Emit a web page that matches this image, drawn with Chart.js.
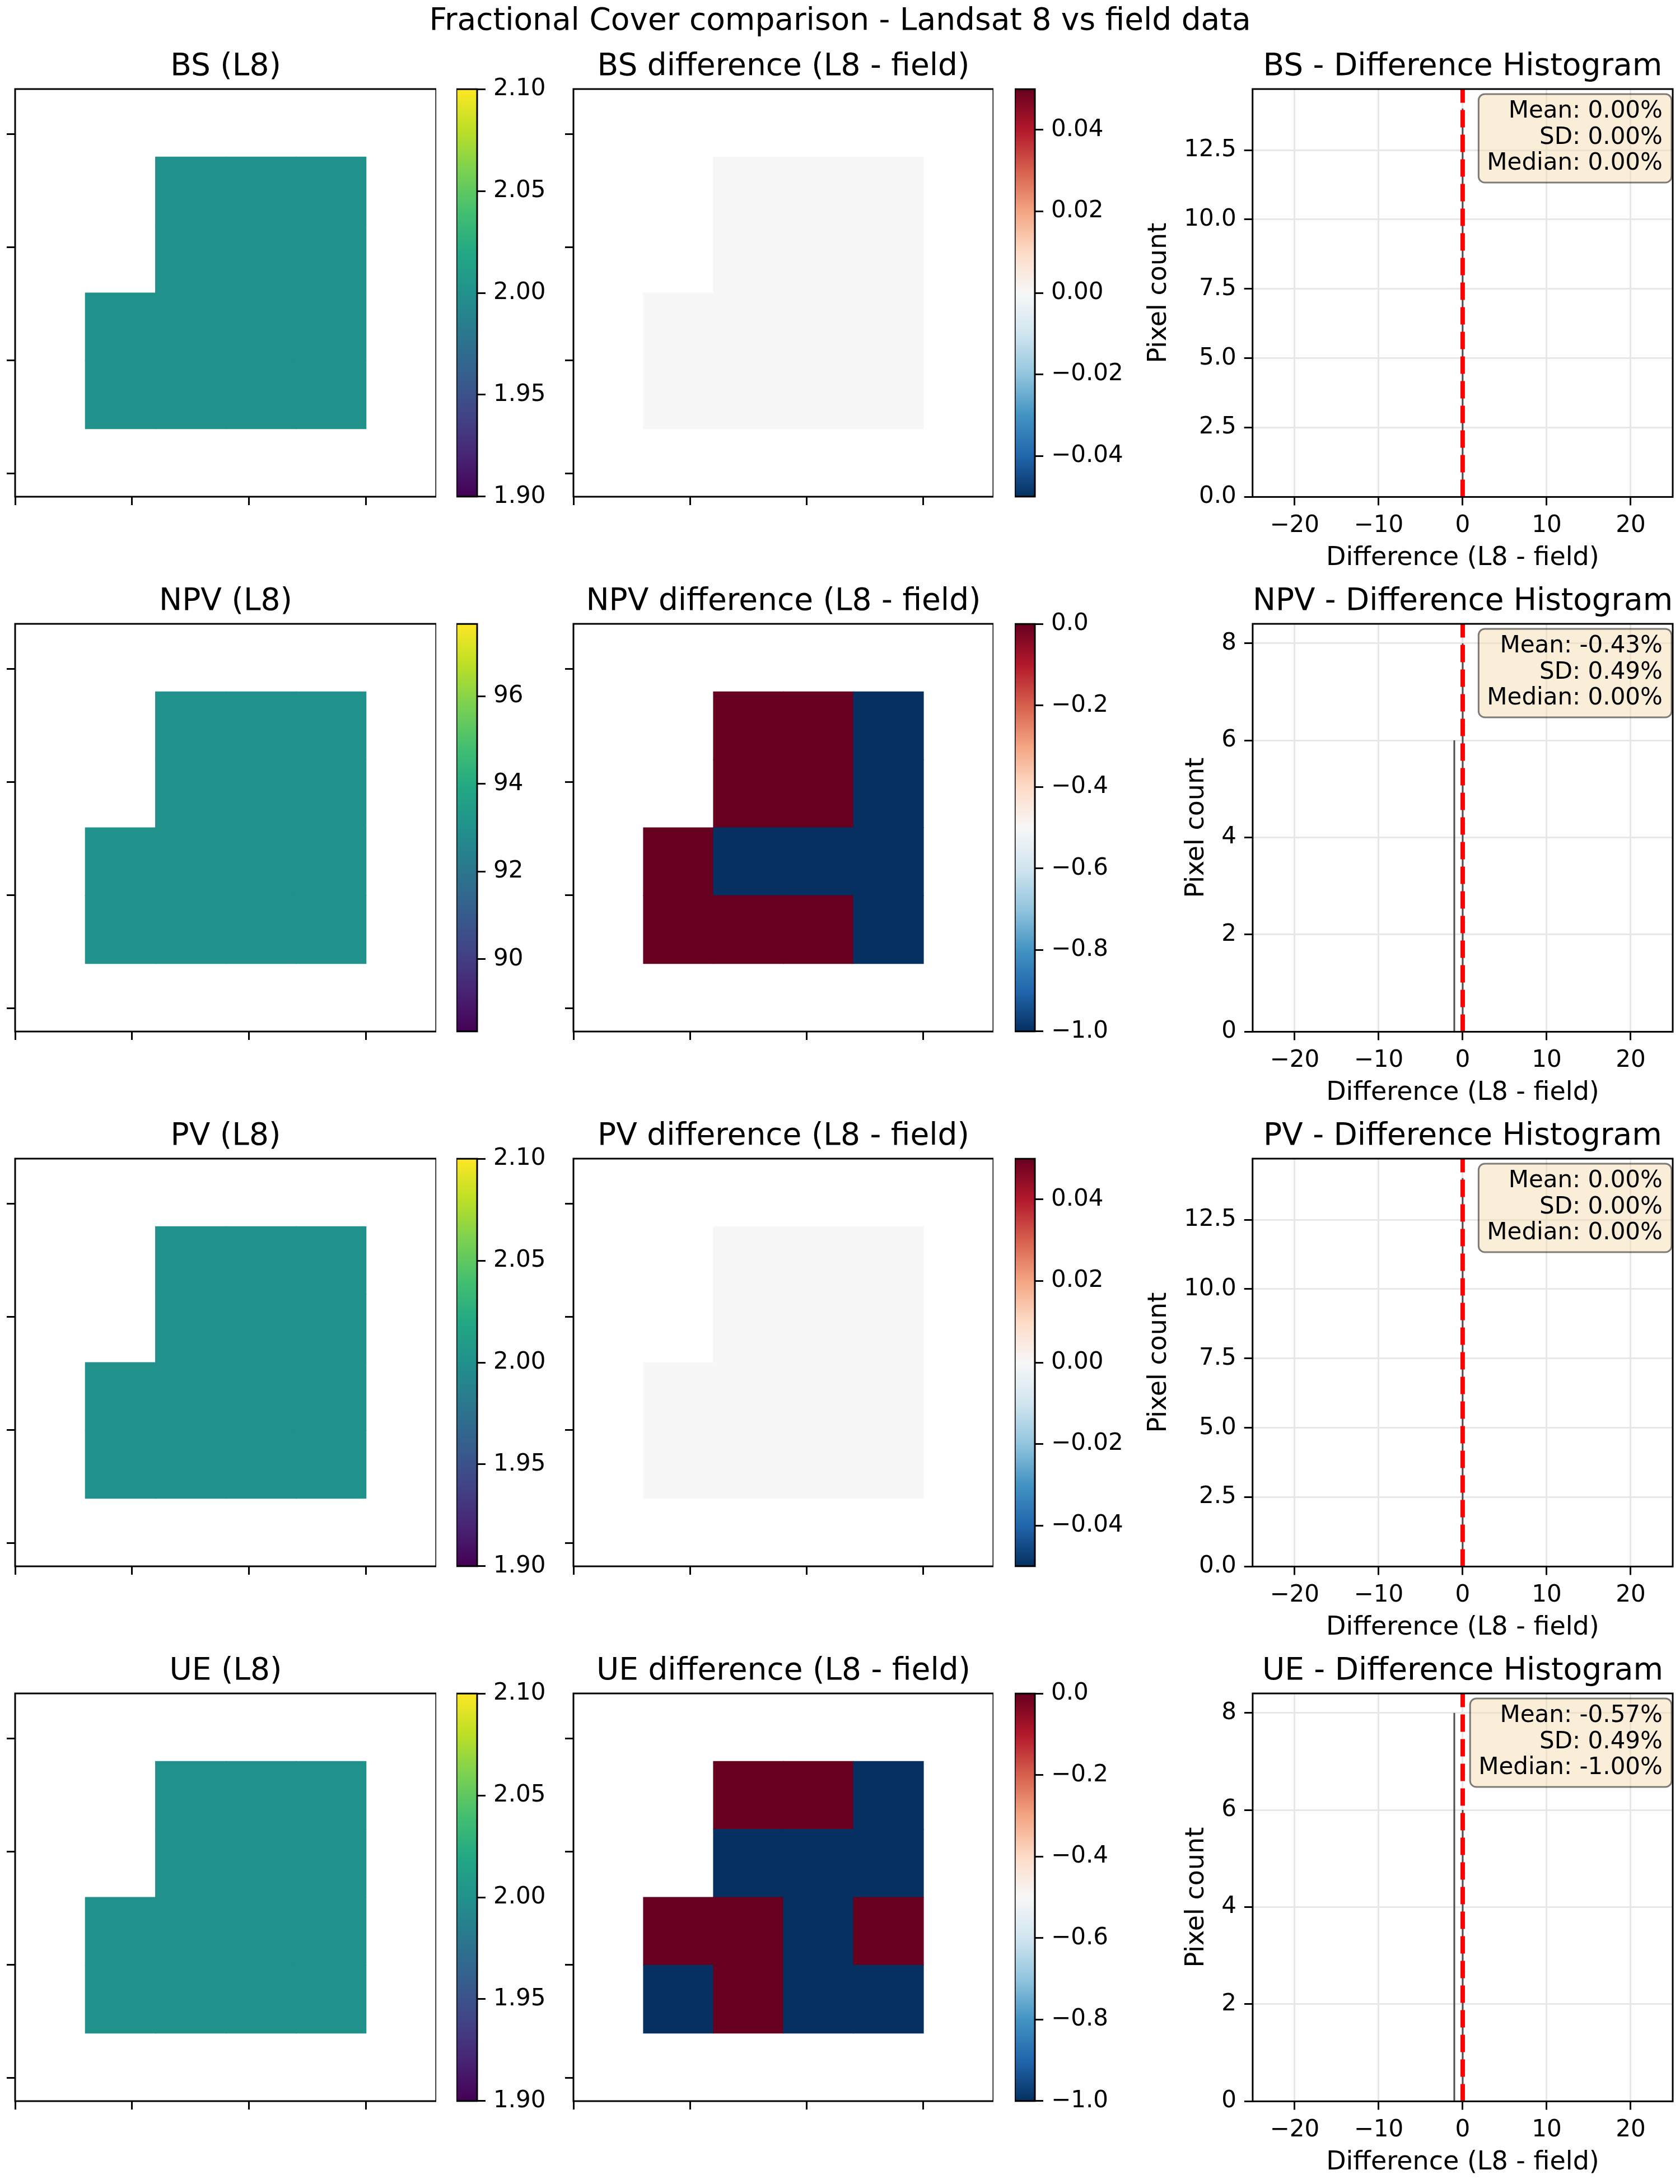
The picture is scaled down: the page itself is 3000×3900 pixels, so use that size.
<!DOCTYPE html>
<html>
<head>
<meta charset="utf-8">
<script src="https://cdn.jsdelivr.net/npm/chart.js@4.4.1/dist/chart.umd.min.js"></script>
<style>
  html, body { margin: 0; padding: 0; background: #fff; }
  body { width: 3000px; height: 3900px; position: relative; overflow: hidden; }
  canvas { position: absolute; }
  #suptitle { position: absolute; left: 0; top: 1px; width: 3000px; text-align: center;
              font-family: 'DejaVu Sans'; font-size: 55px; line-height: 66px; color: #000; }
</style>
</head>
<body>
<div id="suptitle">Fractional Cover comparison - Landsat 8 vs field data</div>
<script>
// ---------- values ----------
const bands = ['BS', 'NPV', 'PV', 'UE'];

// 6x6 pixel grids, null = no data
const bsL8 = [
  [null, null, null, null, null, null],
  [null, null, 2, 2, 2, null],
  [null, null, 2, 2, 2, null],
  [null, 2, 2, 2, 2, null],
  [null, 2, 2, 2, 2, null],
  [null, null, null, null, null, null]
];
const npvL8 = [
  [null, null, null, null, null, null],
  [null, null, 93, 93, 93, null],
  [null, null, 93, 93, 93, null],
  [null, 93, 93, 93, 93, null],
  [null, 93, 93, 93, 93, null],
  [null, null, null, null, null, null]
];
const pvL8 = [
  [null, null, null, null, null, null],
  [null, null, 2, 2, 2, null],
  [null, null, 2, 2, 2, null],
  [null, 2, 2, 2, 2, null],
  [null, 2, 2, 2, 2, null],
  [null, null, null, null, null, null]
];
const ueL8 = [
  [null, null, null, null, null, null],
  [null, null, 2, 2, 2, null],
  [null, null, 2, 2, 2, null],
  [null, 2, 2, 2, 2, null],
  [null, 2, 2, 2, 2, null],
  [null, null, null, null, null, null]
];

const bsDiff = [
  [null, null, null, null, null, null],
  [null, null, 0, 0, 0, null],
  [null, null, 0, 0, 0, null],
  [null, 0, 0, 0, 0, null],
  [null, 0, 0, 0, 0, null],
  [null, null, null, null, null, null]
];
const npvDiff = [
  [null, null, null, null, null, null],
  [null, null, 0, 0, -1, null],
  [null, null, 0, 0, -1, null],
  [null, 0, -1, -1, -1, null],
  [null, 0, 0, 0, -1, null],
  [null, null, null, null, null, null]
];
const pvDiff = [
  [null, null, null, null, null, null],
  [null, null, 0, 0, 0, null],
  [null, null, 0, 0, 0, null],
  [null, 0, 0, 0, 0, null],
  [null, 0, 0, 0, 0, null],
  [null, null, null, null, null, null]
];
const ueDiff = [
  [null, null, null, null, null, null],
  [null, null, 0, 0, -1, null],
  [null, null, -1, -1, -1, null],
  [null, 0, 0, -1, 0, null],
  [null, -1, 0, -1, -1, null],
  [null, null, null, null, null, null]
];

// colorbar limits and ticks
const l8Min = [1.90, 88.35, 1.90, 1.90];
const l8Max = [2.10, 97.65, 2.10, 2.10];
const l8Ticks = [
  [1.90, 1.95, 2.00, 2.05, 2.10],
  [90, 92, 94, 96],
  [1.90, 1.95, 2.00, 2.05, 2.10],
  [1.90, 1.95, 2.00, 2.05, 2.10]
];
const diffMin = [-0.05, -1.0, -0.05, -1.0];
const diffMax = [0.05, 0.0, 0.05, 0.0];
const diffTicks = [
  [-0.04, -0.02, 0.00, 0.02, 0.04],
  [-1.0, -0.8, -0.6, -0.4, -0.2, 0.0],
  [-0.04, -0.02, 0.00, 0.02, 0.04],
  [-1.0, -0.8, -0.6, -0.4, -0.2, 0.0]
];

// pixel panel tick positions (in cell units, labels hidden)
const pixelXTicks = [0, 1.665, 3.33, 4.995];
const pixelYTicks = [0.66, 2.33, 3.995, 5.66];

// histograms
const histBins = [-1, 0];
const bsCounts = [0, 14];
const npvCounts = [6, 8];
const pvCounts = [0, 14];
const ueCounts = [8, 6];
const histXTicks = [-20, -10, 0, 10, 20];
const histYMax = [14.7, 8.4, 14.7, 8.4];
const histYTicks = [
  [0, 2.5, 5.0, 7.5, 10.0, 12.5],
  [0, 2, 4, 6, 8],
  [0, 2.5, 5.0, 7.5, 10.0, 12.5],
  [0, 2, 4, 6, 8]
];
const statMean = ['0.00%', '-0.43%', '0.00%', '-0.57%'];
const statSD = ['0.00%', '0.49%', '0.00%', '0.49%'];
const statMedian = ['0.00%', '0.00%', '0.00%', '-1.00%'];

const l8Grids = [bsL8, npvL8, pvL8, ueL8];
const diffGrids = [bsDiff, npvDiff, pvDiff, ueDiff];
const histCounts = [bsCounts, npvCounts, pvCounts, ueCounts];

// ---------- styling ----------
const VIRIDIS = ['#440154', '#482475', '#414487', '#355f8d', '#2a788e', '#21918c',
                 '#22a884', '#44bf70', '#7ad151', '#bddf26', '#fde725'];
const RDBU_R = ['#053061', '#2166ac', '#4393c3', '#92c5de', '#d1e5f0', '#f7f7f7',
                '#fddbc7', '#f4a582', '#d6604d', '#b2182b', '#67001f'];

const TICK_FONT = 42;
Chart.defaults.font.family = "'DejaVu Sans'";
Chart.defaults.font.size = TICK_FONT;
Chart.defaults.color = '#000';

function hexRgb(h) {
  return [parseInt(h.slice(1, 3), 16), parseInt(h.slice(3, 5), 16), parseInt(h.slice(5, 7), 16)];
}

function cmap(stops, t) {
  t = Math.min(1, Math.max(0, t));
  const p = t * (stops.length - 1);
  const i = Math.min(Math.floor(p), stops.length - 2);
  const f = p - i;
  const a = hexRgb(stops[i]), b = hexRgb(stops[i + 1]);
  const c = a.map((v, k) => Math.round(v + (b[k] - v) * f));
  return 'rgb(' + c.join(',') + ')';
}

function decimalsOf(ticks) {
  const step = Math.abs(ticks[1] - ticks[0]);
  let d = 0;
  while (d < 4 && Math.abs(Math.round(step * Math.pow(10, d)) - step * Math.pow(10, d)) > 1e-6) d++;
  return d;
}

function formatter(d) {
  return function (v) {
    const s = Math.abs(v).toFixed(d);
    return (v < -1e-9 ? '\u2212' : '') + s;
  };
}

function useTicks(values) {
  return function (scale) {
    scale.ticks = values.map(v => ({ value: v }));
  };
}

// keep a right-hand colorbar axis as wide as its labels need
function fitLabels(scale) {
  const ctx = scale.ctx;
  ctx.save();
  ctx.font = TICK_FONT + "px 'DejaVu Sans'";
  const w = Math.max(...scale.ticks.map(t => ctx.measureText(String(t.label)).width));
  ctx.restore();
  scale.width = Math.ceil(15 + 14 + w + 4);
}

const tickGrid = { drawOnChartArea: false, tickLength: 15, tickWidth: 3, tickColor: '#000', offset: false };

function titleOpts(text) {
  return {
    display: true, text: text, fullSize: false, color: '#000',
    font: { size: 55, weight: 'normal', lineHeight: 1.2 },
    padding: { top: 0, bottom: 6 }
  };
}

const baseOptions = {
  responsive: false,
  maintainAspectRatio: false,
  animation: false,
  devicePixelRatio: 1,
  events: []
};

// draws the axes box (all four spines) on top of the data
const framePlugin = {
  id: 'frame',
  afterDatasetsDraw(chart) {
    const { ctx, chartArea: a } = chart;
    ctx.save();
    ctx.strokeStyle = '#000';
    ctx.lineWidth = 3;
    ctx.strokeRect(a.left, a.top, a.right - a.left, a.bottom - a.top);
    ctx.restore();
  }
};

// mean / sd / median box in the upper right corner
function statsPlugin(lines) {
  return {
    id: 'stats',
    afterDatasetsDraw(chart) {
      const { ctx, chartArea: a } = chart;
      ctx.save();
      ctx.font = TICK_FONT + "px 'DejaVu Sans'";
      const w = Math.max(...lines.map(t => ctx.measureText(t).width));
      const right = a.right - 18;
      const x0 = right - w - 15, x1 = right + 16;
      const y0 = a.top + 9, y1 = a.top + 167;
      ctx.beginPath();
      ctx.roundRect(x0, y0, x1 - x0, y1 - y0, 11);
      ctx.fillStyle = 'rgba(245,222,179,0.5)';
      ctx.fill();
      ctx.lineWidth = 3;
      ctx.strokeStyle = 'rgba(0,0,0,0.5)';
      ctx.stroke();
      ctx.fillStyle = '#000';
      ctx.textAlign = 'right';
      ctx.textBaseline = 'alphabetic';
      lines.forEach((t, i) => ctx.fillText(t, right, a.top + 51 + i * 46.5));
      ctx.restore();
    }
  };
}

// ---------- chart builders ----------
function pixelConfig(title, grid, stops, vmin, vmax) {
  const pts = [];
  grid.forEach((row, r) => row.forEach((v, c) => {
    if (v !== null) pts.push({ x: c + 0.5, y: [r, r + 1], v: v });
  }));
  return {
    type: 'bar',
    data: {
      datasets: [{
        data: pts,
        backgroundColor: pts.map(p => cmap(stops, (p.v - vmin) / (vmax - vmin))),
        borderWidth: 0,
        barPercentage: 1,
        categoryPercentage: 1,
        inflateAmount: 0.6
      }]
    },
    options: Object.assign({}, baseOptions, {
      plugins: { legend: { display: false }, tooltip: { enabled: false }, title: titleOpts(title) },
      scales: {
        x: {
          type: 'linear', min: 0, max: grid[0].length, offset: false,
          afterBuildTicks: useTicks(pixelXTicks),
          ticks: { display: false }, grid: tickGrid, border: { display: false }
        },
        y: {
          type: 'linear', min: 0, max: grid.length, reverse: true,
          afterBuildTicks: useTicks(pixelYTicks),
          ticks: { display: false }, grid: tickGrid, border: { display: false }
        }
      }
    }),
    plugins: [framePlugin]
  };
}

function colorbarConfig(stops, vmin, vmax, ticks) {
  return {
    type: 'bar',
    data: {
      labels: [''],
      datasets: [{
        data: [[vmin, vmax]],
        backgroundColor: function (ctx) {
          const area = ctx.chart.chartArea;
          if (!area) return null;
          const g = ctx.chart.ctx.createLinearGradient(0, area.bottom, 0, area.top);
          stops.forEach((s, i) => g.addColorStop(i / (stops.length - 1), s));
          return g;
        },
        borderWidth: 0,
        barPercentage: 1,
        categoryPercentage: 1,
        inflateAmount: 0
      }]
    },
    options: Object.assign({}, baseOptions, {
      plugins: { legend: { display: false }, tooltip: { enabled: false } },
      scales: {
        x: { display: false },
        y: {
          position: 'right', min: vmin, max: vmax, bounds: 'data',
          afterBuildTicks: useTicks(ticks),
          afterFit: fitLabels,
          ticks: { padding: 14, autoSkip: false, callback: formatter(decimalsOf(ticks)) },
          grid: tickGrid, border: { display: false }
        }
      }
    }),
    plugins: [framePlugin]
  };
}

function histConfig(i) {
  const yMax = histYMax[i];
  return {
    type: 'bar',
    data: {
      datasets: [{
        type: 'line',
        data: [{ x: 0, y: 0 }, { x: 0, y: yMax }],
        borderColor: '#ff0000',
        borderWidth: 8,
        borderDash: [31, 13],
        pointRadius: 0,
        order: 0
      }, {
        data: histBins.map((b, j) => ({ x: b, y: histCounts[i][j] })),
        backgroundColor: '#4d4d4d',
        borderWidth: 0,
        barThickness: 3,
        inflateAmount: 0,
        order: 1
      }]
    },
    options: Object.assign({}, baseOptions, {
      layout: { padding: { right: 10 } },
      plugins: {
        legend: { display: false }, tooltip: { enabled: false },
        title: titleOpts(bands[i] + ' - Difference Histogram')
      },
      scales: {
        x: {
          type: 'linear', min: -25, max: 25, offset: false,
          afterBuildTicks: useTicks(histXTicks),
          ticks: { padding: 11, maxRotation: 0, minRotation: 0, autoSkip: false, callback: formatter(0) },
          grid: { color: '#e7e7e7', lineWidth: 3, tickLength: 15, tickWidth: 3, tickColor: '#000', offset: false },
          border: { display: false },
          title: { display: true, text: 'Difference (L8 - field)', font: { size: 46 }, padding: { top: -5, bottom: 0 } }
        },
        y: {
          type: 'linear', min: 0, max: yMax, bounds: 'data',
          afterBuildTicks: useTicks(histYTicks[i]),
          ticks: { padding: 14, autoSkip: false, callback: formatter(decimalsOf(histYTicks[i])) },
          grid: { color: '#e7e7e7', lineWidth: 3, tickLength: 15, tickWidth: 3, tickColor: '#000' },
          border: { display: false },
          title: { display: true, text: 'Pixel count', font: { size: 46 }, padding: { top: 0, bottom: 3 } }
        }
      }
    }),
    plugins: [statsPlugin(['Mean: ' + statMean[i], 'SD: ' + statSD[i], 'Median: ' + statMedian[i]]), framePlugin]
  };
}

// build once, measure the plot area, rebuild at the right size and move it into place
function makeChart(box, build) {
  const canvas = document.createElement('canvas');
  document.body.appendChild(canvas);
  canvas.width = box.w + 600;
  canvas.height = box.h + 400;
  let chart = new Chart(canvas, build());
  let a = chart.chartArea;
  const w = Math.round(canvas.width + box.w - (a.right - a.left));
  const h = Math.round(canvas.height + box.h - (a.bottom - a.top));
  chart.destroy();
  canvas.width = w;
  canvas.height = h;
  chart = new Chart(canvas, build());
  a = chart.chartArea;
  canvas.style.left = Math.round(box.x - a.left) + 'px';
  canvas.style.top = Math.round(box.y - a.top) + 'px';
  return chart;
}

// ---------- layout ----------
const rowTop = [159, 1114, 2069, 3024];
const axH = 728;

bands.forEach(function (band, i) {
  const top = rowTop[i];
  makeChart({ x: 27, y: top, w: 752, h: axH },
    () => pixelConfig(band + ' (L8)', l8Grids[i], VIRIDIS, l8Min[i], l8Max[i]));
  makeChart({ x: 815, y: top, w: 37, h: axH },
    () => colorbarConfig(VIRIDIS, l8Min[i], l8Max[i], l8Ticks[i]));
  makeChart({ x: 1024, y: top, w: 750, h: axH },
    () => pixelConfig(band + ' difference (L8 - field)', diffGrids[i], RDBU_R, diffMin[i], diffMax[i]));
  makeChart({ x: 1812, y: top, w: 36, h: axH },
    () => colorbarConfig(RDBU_R, diffMin[i], diffMax[i], diffTicks[i]));
  makeChart({ x: 2237, y: top, w: 750, h: axH }, () => histConfig(i));
});
</script>
</body>
</html>
